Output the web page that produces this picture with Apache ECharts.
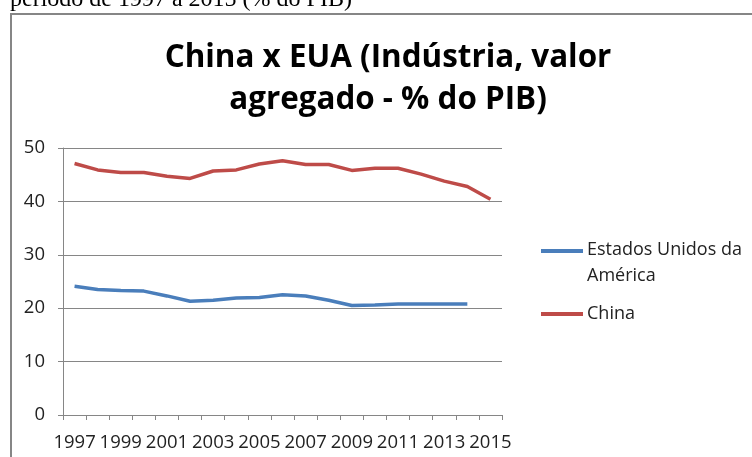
<!DOCTYPE html>
<html>
<head>
<meta charset="utf-8">
<script src="https://cdn.jsdelivr.net/npm/echarts@6/dist/echarts.min.js"></script>
<style>
  html, body { margin: 0; padding: 0; background: #fff; }
  #show { width: 752px; height: 457px; }
</style>
</head>
<body>
<div id="show"></div>
<script>
// anos
var anos = ['1997','1998','1999','2000','2001','2002','2003','2004','2005','2006',
	'2007','2008','2009','2010','2011','2012','2013','2014','2015'];
// Estados Unidos da América
var eua = [24.1, 23.5, 23.3, 23.2, 22.3, 21.3, 21.5, 21.9, 22.0, 22.5,
	22.3, 21.5, 20.5, 20.6, 20.8, 20.8, 20.8, 20.8, null];
// China
var china = [47.1, 45.9, 45.4, 45.4, 44.7, 44.3, 45.7, 45.9, 47.0, 47.6,
	46.9, 46.9, 45.8, 46.2, 46.2, 45.1, 43.8, 42.8, 40.4];
// rótulos do eixo Y
var yMin = 0, yMax = 50, yStep = 10;

var myEchart = echarts.init(document.getElementById('show'));

var fonte = '"Open Sans", "Noto Sans", sans-serif';
var corEua = '#4A7EBB';
var corChina = '#BE4B48';

var option = {
	animation: false,
	title: {
		text: 'China x EUA (Indústria, valor\nagregado - % do PIB)',
		left: 383,
		top: 32,
		textAlign: 'center',
		textStyle: {
			fontFamily: fonte,
			fontWeight: 'bold',
			fontSize: 31.4,
			lineHeight: 42,
			color: '#000'
		}
	},
	grid: {
		left: 63,
		right: 250,
		top: 148,
		bottom: 42
	},
	xAxis: {
		type: 'category',
		data: anos,
		boundaryGap: true,
		axisLine: { lineStyle: { color: '#868686', width: 1 } },
		axisTick: { show: true, interval: 0, length: 5, lineStyle: { color: '#868686' } },
		axisLabel: {
			interval: 1,
			margin: 18,
			fontFamily: fonte,
			fontSize: 18.5,
			color: '#222'
		},
		splitLine: { show: false }
	},
	yAxis: {
		type: 'value',
		min: yMin,
		max: yMax,
		interval: yStep,
		axisLine: { show: true, lineStyle: { color: '#868686', width: 1 } },
		axisTick: { show: true, length: 5, lineStyle: { color: '#868686' } },
		axisLabel: {
			margin: 18,
			fontFamily: fonte,
			fontSize: 18.5,
			color: '#222'
		},
		splitLine: { lineStyle: { color: '#868686', width: 1 } }
	},
	series: [{
		name: 'Estados Unidos da América',
		type: 'line',
		data: eua,
		symbol: 'none',
		lineStyle: { color: corEua, width: 3.5 },
		itemStyle: { color: corEua }
	}, {
		name: 'China',
		type: 'line',
		data: china,
		symbol: 'none',
		lineStyle: { color: corChina, width: 3.5 },
		itemStyle: { color: corChina }
	}],
	graphic: [{
		// texto cortado acima do gráfico
		type: 'text',
		left: 10,
		top: -12,
		style: {
			text: 'período de 1997 a 2015 (% do PIB)',
			font: '24px "Liberation Serif", serif',
			fill: '#000'
		}
	}, {
		// borda da área do gráfico
		type: 'rect',
		shape: { x: 11, y: 14, width: 760, height: 460 },
		style: { fill: 'none', stroke: '#868686', lineWidth: 2 },
		silent: true
	}, {
		// legenda
		type: 'group',
		left: 541,
		top: 237,
		children: [{
			type: 'rect',
			shape: { x: 0, y: 12, width: 42, height: 4 },
			style: { fill: corEua }
		}, {
			type: 'text',
			x: 46, y: 0,
			style: {
				text: 'Estados Unidos da\nAmérica',
				font: '18px "Open Sans", "Noto Sans", sans-serif',
				lineHeight: 26,
				fill: '#222'
			}
		}, {
			type: 'rect',
			shape: { x: 0, y: 75, width: 42, height: 4 },
			style: { fill: corChina }
		}, {
			type: 'text',
			x: 46, y: 64,
			style: {
				text: 'China',
				font: '18px "Open Sans", "Noto Sans", sans-serif',
				lineHeight: 26,
				fill: '#222'
			}
		}]
	}]
};

myEchart.setOption(option);
</script>
</body>
</html>
